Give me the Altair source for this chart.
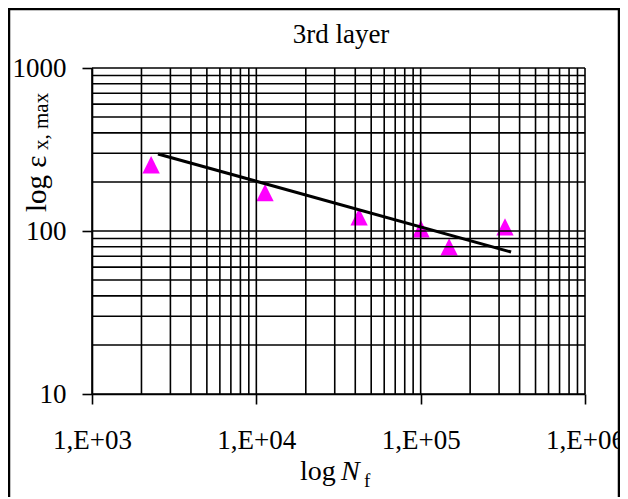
import json
import altair as alt
import pandas as pd

# ---- data ----
N_f = [2290, 11300, 42200, 100400, 149000, 326000]
eps_max = [255, 172, 122, 103, 80, 106]
trend_N = [2520, 355000]
trend_eps = [297, 74.3]

x_major = [1000, 10000, 100000, 1000000]
x_labels = ["1,E+03", "1,E+04", "1,E+05", "1,E+06"]
y_major = [10, 100, 1000]
x_grid = [k * 10 ** e for e in (3, 4, 5) for k in range(1, 10)] + [10 ** 6]
y_grid = [k * 10 ** e for e in (1, 2) for k in range(1, 10)] + [1000]

title_text = "3rd layer"

W, H = 493, 326
FONT = "Liberation Serif"

xs = alt.Scale(type="log", domain=[1000, 1000000], nice=False)
ys = alt.Scale(type="log", domain=[10, 1000], nice=False)

label_expr = "%s[round(log(datum.value)/LN10) - 3]" % json.dumps(x_labels).replace('"', "'")

x_axis = alt.Axis(
    values=x_major, grid=False, orient="bottom", title=None,
    tickSize=10, tickColor="black", tickWidth=1.6,
    domainColor="black", domainWidth=1.6,
    labelFont=FONT, labelFontSize=27, labelColor="black",
    labelPadding=23, labelExpr=label_expr,
    labelFlush=False, labelOverlap=False)

y_axis = alt.Axis(
    values=y_major, grid=False, orient="left", title=None, format="d",
    tickSize=10, tickColor="black", tickWidth=1.6,
    domainColor="black", domainWidth=1.6,
    labelFont=FONT, labelFontSize=27, labelColor="black",
    labelPadding=16, labelFlush=False, labelOverlap=False)

pts = alt.Chart(pd.DataFrame({"N": N_f, "e": eps_max})).mark_point(
    shape="M0,-1L-1,1L1,1Z", filled=True, color="#FF00FF", size=300, opacity=1
).encode(
    x=alt.X("N:Q", scale=xs, axis=x_axis),
    y=alt.Y("e:Q", scale=ys, axis=y_axis),
)

grid_x = alt.Chart(pd.DataFrame({"N": x_grid})).mark_rule(
    color="black", strokeWidth=1.6
).encode(x=alt.X("N:Q", scale=xs))

grid_y = alt.Chart(pd.DataFrame({"e": y_grid})).mark_rule(
    color="black", strokeWidth=1.6
).encode(y=alt.Y("e:Q", scale=ys))

trend = alt.Chart(pd.DataFrame({"N": trend_N, "e": trend_eps})).mark_line(
    color="black", strokeWidth=3
).encode(
    x=alt.X("N:Q", scale=xs),
    y=alt.Y("e:Q", scale=ys),
)


def txt(s, x, y, size, angle=0, italic=False, align="left"):
    return alt.Chart(pd.DataFrame({"t": [s]})).mark_text(
        font=FONT, fontSize=size, align=align, baseline="alphabetic",
        angle=angle, fontStyle="italic" if italic else "normal", color="black"
    ).encode(text="t:N", x=alt.value(x), y=alt.value(y))


title = txt(title_text, 249, -25, 27, align="center")
xt1 = txt("log", 208, 412, 28)
xt2 = txt("N", 249, 412, 28, italic=True)
xt3 = txt("f", 272, 419, 19)
yt1 = txt("log ε", -46, 144, 29, angle=270)
yt2 = txt("x, max", -44, 82, 21, angle=270)

border = alt.Chart(pd.DataFrame({"a": [0]})).mark_rect(
    filled=False, color="black", strokeWidth=2.5
).encode(
    x=alt.value(-83), y=alt.value(-59), x2=alt.value(527), y2=alt.value(520)
)

chart = alt.layer(
    pts, grid_x, grid_y, trend, title, xt1, xt2, xt3, yt1, yt2, border
).properties(
    width=W, height=H,
    autosize=alt.AutoSizeParams(type="none"),
    padding={"left": 84, "top": 60, "right": 35, "bottom": 103},
    background="white",
).configure_view(stroke=None)

chart.save("out.html", embed_options={"renderer": "svg", "actions": False})
